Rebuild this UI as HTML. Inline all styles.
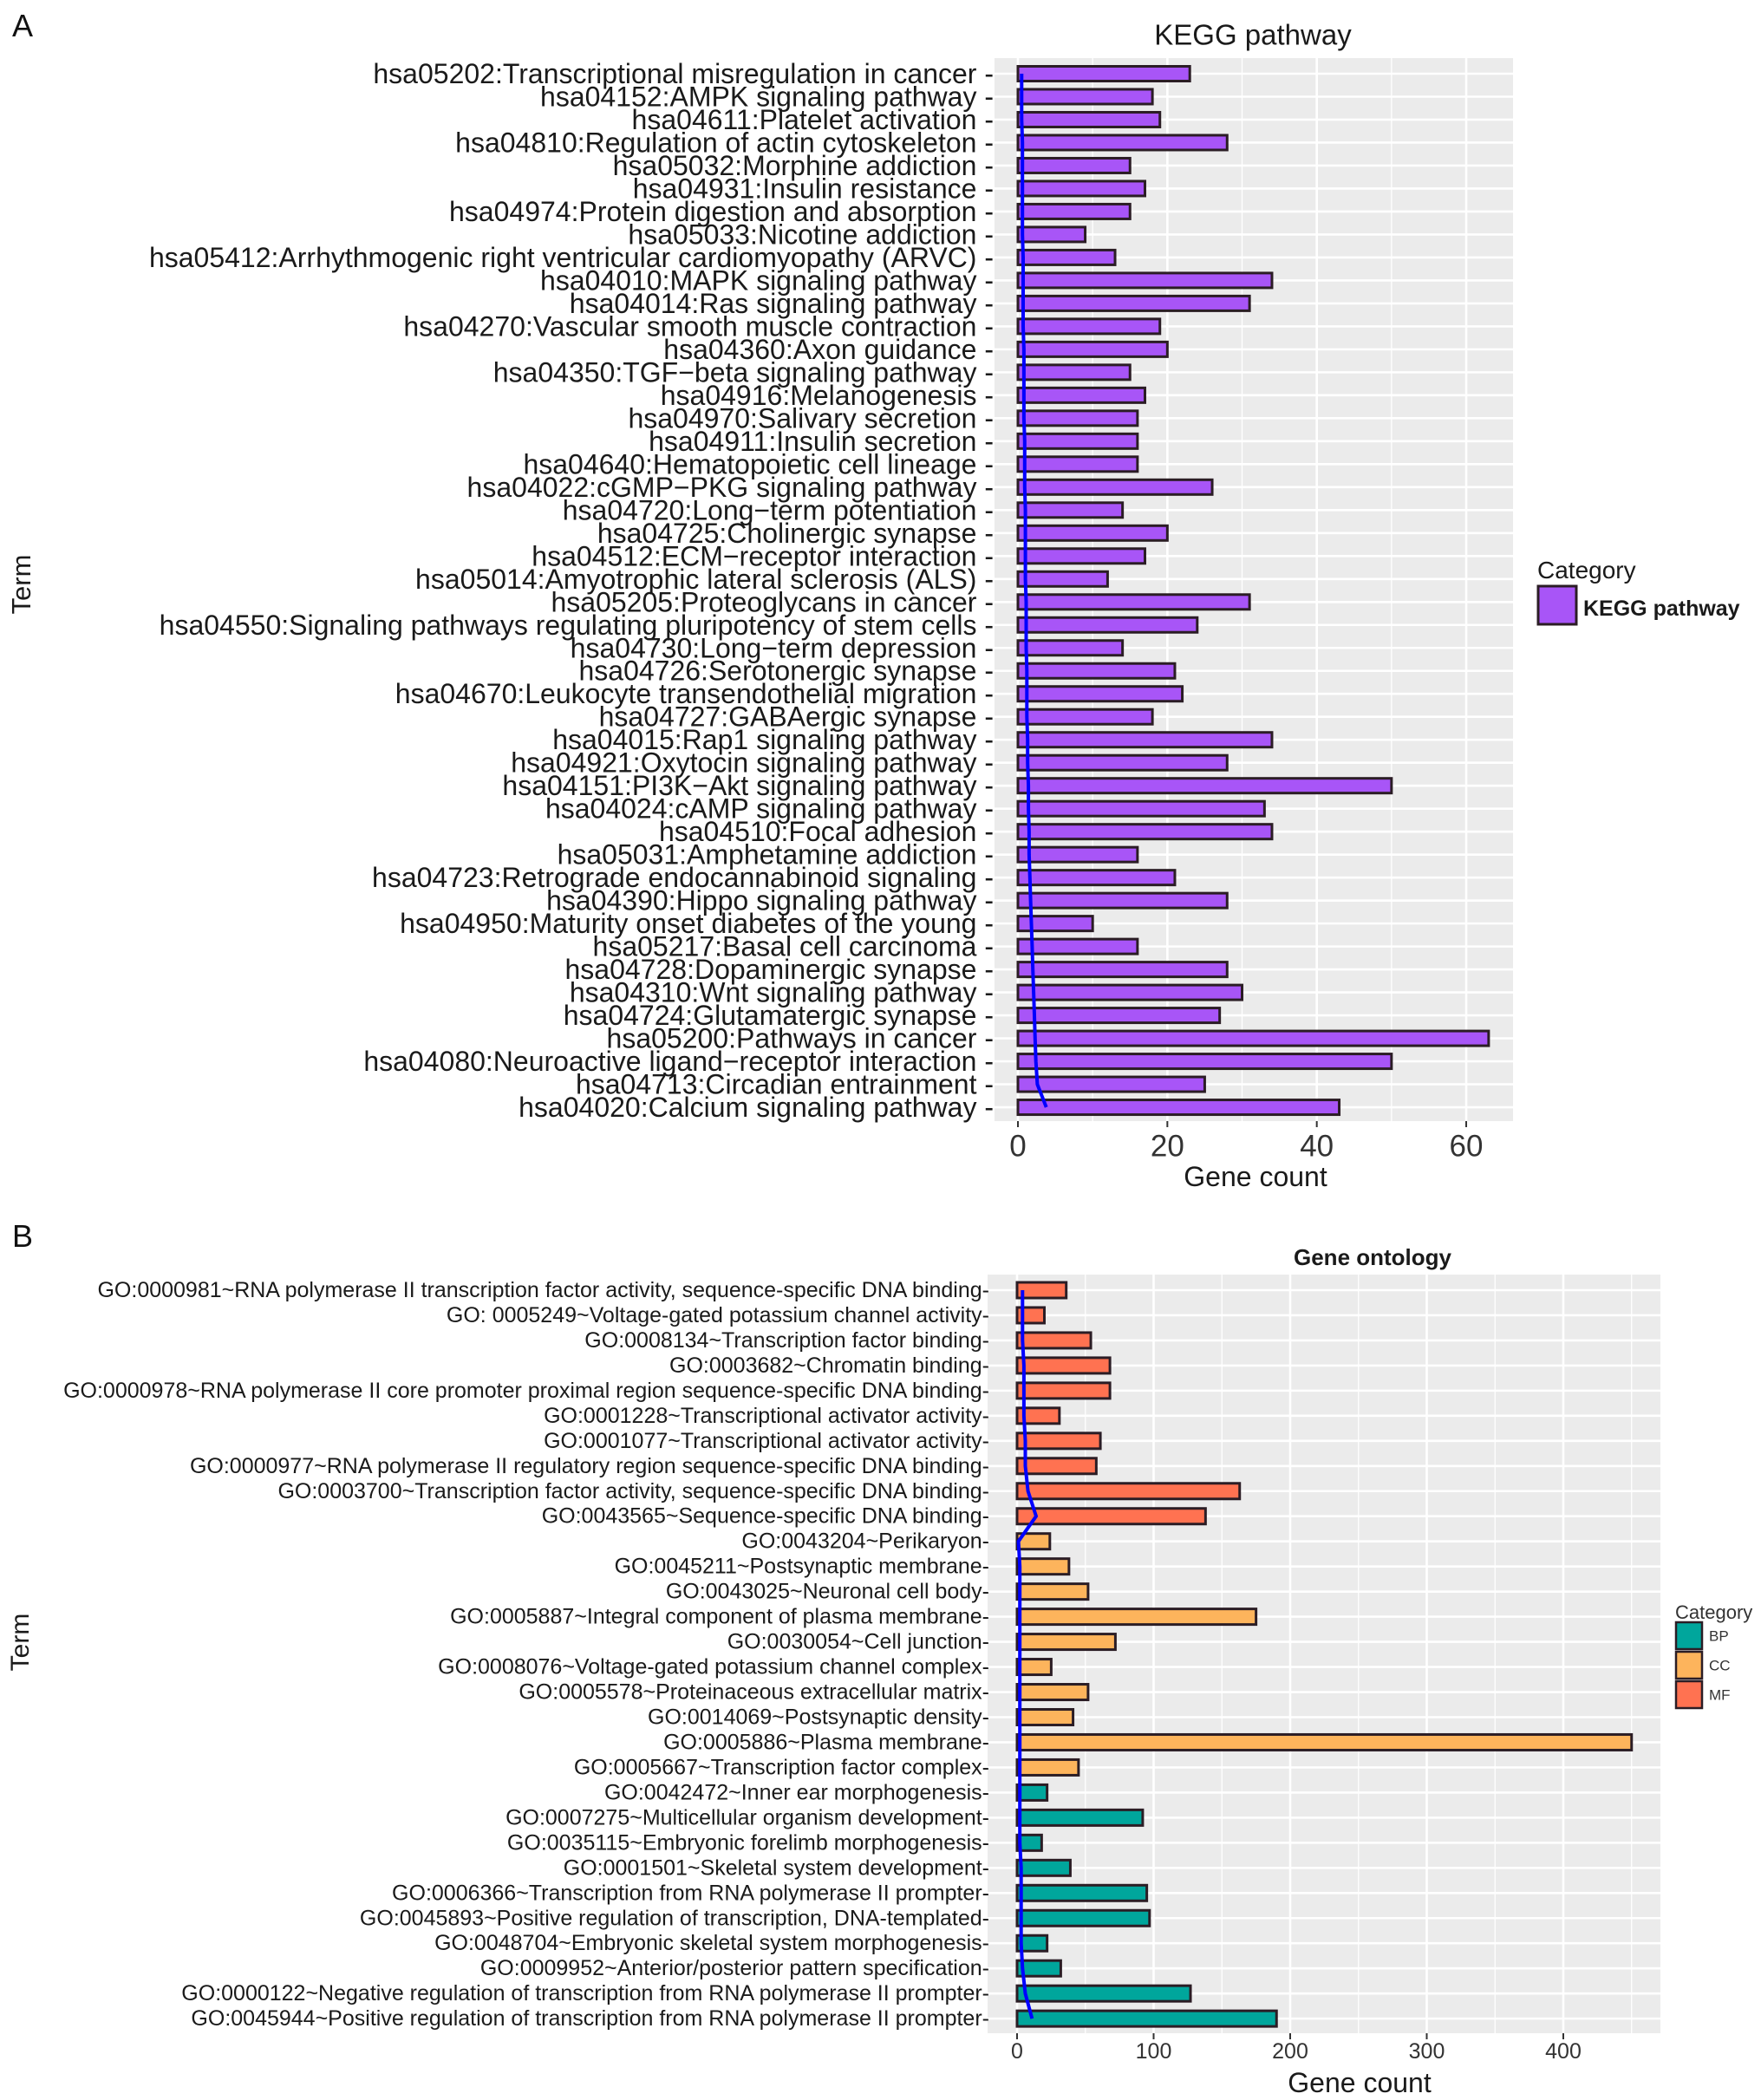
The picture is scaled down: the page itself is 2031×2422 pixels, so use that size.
<!DOCTYPE html>
<html><head><meta charset="utf-8"><style>
html,body{margin:0;padding:0;background:#fff;}
svg{display:block;font-family:"Liberation Sans",Arial,sans-serif;}
</style></head><body>
<svg id="fig" width="2031" height="2422" viewBox="0 0 2031 2422" xmlns="http://www.w3.org/2000/svg">
<text x="14" y="42" font-size="36" fill="#111">A</text>
<text x="14" y="1438" font-size="36" fill="#111">B</text>
<g id="kegg"></g>
<g id="go"></g>
</svg>
<script>
const keggTerms = ["hsa05202:Transcriptional misregulation in cancer","hsa04152:AMPK signaling pathway","hsa04611:Platelet activation","hsa04810:Regulation of actin cytoskeleton","hsa05032:Morphine addiction","hsa04931:Insulin resistance","hsa04974:Protein digestion and absorption","hsa05033:Nicotine addiction","hsa05412:Arrhythmogenic right ventricular cardiomyopathy (ARVC)","hsa04010:MAPK signaling pathway","hsa04014:Ras signaling pathway","hsa04270:Vascular smooth muscle contraction","hsa04360:Axon guidance","hsa04350:TGF\u2212beta signaling pathway","hsa04916:Melanogenesis","hsa04970:Salivary secretion","hsa04911:Insulin secretion","hsa04640:Hematopoietic cell lineage","hsa04022:cGMP\u2212PKG signaling pathway","hsa04720:Long\u2212term potentiation","hsa04725:Cholinergic synapse","hsa04512:ECM\u2212receptor interaction","hsa05014:Amyotrophic lateral sclerosis (ALS)","hsa05205:Proteoglycans in cancer","hsa04550:Signaling pathways regulating pluripotency of stem cells","hsa04730:Long\u2212term depression","hsa04726:Serotonergic synapse","hsa04670:Leukocyte transendothelial migration","hsa04727:GABAergic synapse","hsa04015:Rap1 signaling pathway","hsa04921:Oxytocin signaling pathway","hsa04151:PI3K\u2212Akt signaling pathway","hsa04024:cAMP signaling pathway","hsa04510:Focal adhesion","hsa05031:Amphetamine addiction","hsa04723:Retrograde endocannabinoid signaling","hsa04390:Hippo signaling pathway","hsa04950:Maturity onset diabetes of the young","hsa05217:Basal cell carcinoma","hsa04728:Dopaminergic synapse","hsa04310:Wnt signaling pathway","hsa04724:Glutamatergic synapse","hsa05200:Pathways in cancer","hsa04080:Neuroactive ligand\u2212receptor interaction","hsa04713:Circadian entrainment","hsa04020:Calcium signaling pathway"];
const keggCounts = [23,18,19,28,15,17,15,9,13,34,31,19,20,15,17,16,16,16,26,14,20,17,12,31,24,14,21,22,18,34,28,50,33,34,16,21,28,10,16,28,30,27,63,50,25,43];
const keggLine = [0.5,0.5,0.5,0.6,0.6,0.6,0.6,0.6,0.7,0.7,0.7,0.7,0.8,0.8,0.8,0.8,0.9,0.9,0.9,1.0,1.0,1.0,1.0,1.1,1.1,1.1,1.2,1.2,1.2,1.3,1.3,1.4,1.4,1.5,1.5,1.6,1.7,1.8,1.9,2.0,2.1,2.2,2.3,2.4,2.6,3.8];
const keggTicks = [0,20,40,60];

const goTerms = ["GO:0000981~RNA polymerase II transcription factor activity, sequence-specific DNA binding","GO: 0005249~Voltage-gated potassium channel activity","GO:0008134~Transcription factor binding","GO:0003682~Chromatin binding","GO:0000978~RNA polymerase II core promoter proximal region sequence-specific DNA binding","GO:0001228~Transcriptional activator activity","GO:0001077~Transcriptional activator activity","GO:0000977~RNA polymerase II regulatory region sequence-specific DNA binding","GO:0003700~Transcription factor activity, sequence-specific DNA binding","GO:0043565~Sequence-specific DNA binding","GO:0043204~Perikaryon","GO:0045211~Postsynaptic membrane","GO:0043025~Neuronal cell body","GO:0005887~Integral component of plasma membrane","GO:0030054~Cell junction","GO:0008076~Voltage-gated potassium channel complex","GO:0005578~Proteinaceous extracellular matrix","GO:0014069~Postsynaptic density","GO:0005886~Plasma membrane","GO:0005667~Transcription factor complex","GO:0042472~Inner ear morphogenesis","GO:0007275~Multicellular organism development","GO:0035115~Embryonic forelimb morphogenesis","GO:0001501~Skeletal system development","GO:0006366~Transcription from RNA polymerase II prompter","GO:0045893~Positive regulation of transcription, DNA-templated","GO:0048704~Embryonic skeletal system morphogenesis","GO:0009952~Anterior/posterior pattern specification","GO:0000122~Negative regulation of transcription from RNA polymerase II prompter","GO:0045944~Positive regulation of transcription from RNA polymerase II prompter"];
const goCounts = [36,20,54,68,68,31,61,58,163,138,24,38,52,175,72,25,52,41,450,45,22,92,18,39,95,97,22,32,127,190];
const goCats = ["MF","MF","MF","MF","MF","MF","MF","MF","MF","MF","CC","CC","CC","CC","CC","CC","CC","CC","CC","CC","BP","BP","BP","BP","BP","BP","BP","BP","BP","BP"];
const goLine = [4,4,4,5,5,5,6,6,8,14,1,2,2,2,2,2,2,2,2,2,2,2,2,3,3,3,3,4,6,11];
const goTicks = [0,100,200,300,400];
const catNames = ["BP","CC","MF"];
const catColors = {BP:"#00A69C",CC:"#FDB45C",MF:"#FF7251"};

const NS="http://www.w3.org/2000/svg";
function mk(parent,tag,attrs){const e=document.createElementNS(NS,tag);for(const k in attrs)e.setAttribute(k,attrs[k]);parent.appendChild(e);return e;}

function chart(g,o){
  const xs=v=>o.x0+v*o.ppu;
  const ys=i=>o.yFirst+i*o.step;
  const bg=mk(g,'rect',{x:o.left,y:o.top,width:o.right-o.left,height:o.bottom-o.top,fill:'#EBEBEB'});
  
  
  for(let v=o.minor0;xs(v)<o.right;v+=o.minorStep){ if(xs(v)>o.left) mk(g,'line',{x1:xs(v),x2:xs(v),y1:o.top,y2:o.bottom,stroke:'#fff','stroke-width':1.3}); }
  o.ticks.forEach(v=>mk(g,'line',{x1:xs(v),x2:xs(v),y1:o.top,y2:o.bottom,stroke:'#fff','stroke-width':2.6}));
  o.terms.forEach((t,i)=>mk(g,'line',{x1:o.left,x2:o.right,y1:ys(i),y2:ys(i),stroke:'#fff','stroke-width':2.6}));
  o.terms.forEach((t,i)=>{
    const y=ys(i);
    const r=mk(g,'rect',{x:xs(0),y:y-o.bh/2,width:xs(o.counts[i])-xs(0),height:o.bh,fill:o.color(i),stroke:'#2b1d25','stroke-width':3});
    
    
    const lb=mk(g,'text',{x:o.labelX,y:y,'font-size':o.lfs,'text-anchor':'end','dominant-baseline':'central',fill:'#1a1a1a','font-weight':o.lfw});
    lb.textContent=t+o.suffix;
    
    
  });
  let d='';
  o.line.forEach((v,i)=>{d+=(i?'L':'M')+xs(v).toFixed(1)+','+ys(i).toFixed(1);});
  const p=mk(g,'path',{d:d,fill:'none',stroke:'#0000FF','stroke-width':4,'stroke-linejoin':'round'});
  
  
  o.ticks.forEach(v=>{
    mk(g,'line',{x1:xs(v),x2:xs(v),y1:o.bottom,y2:o.bottom+7,stroke:'#333','stroke-width':2});
    const t=mk(g,'text',{x:xs(v),y:o.tickY,'font-size':o.tfs,'text-anchor':'middle','dominant-baseline':'central',fill:'#333'});
    t.textContent=v;
    
    
  });
}

const kg=document.getElementById('kegg');
chart(kg,{x0:1174,ppu:8.617,left:1147,right:1745,top:67,bottom:1293,yFirst:85,step:26.49,bh:17,
  minor0:-10,minorStep:10,ticks:keggTicks,terms:keggTerms,counts:keggCounts,line:keggLine,
  color:()=>'#A855F7',labelX:1146,lfs:32,lfw:'normal',suffix:' -',tickY:1322,tfs:35});
const kt=mk(kg,'text',{x:1445,y:40,'font-size':33,'text-anchor':'middle','dominant-baseline':'central',fill:'#1a1a1a'});kt.textContent='KEGG pathway';


const kx=mk(kg,'text',{x:1448,y:1357,'font-size':32,'text-anchor':'middle','dominant-baseline':'central',fill:'#1a1a1a'});kx.textContent='Gene count';


const ky=mk(kg,'text',{x:0,y:0,'font-size':31,'text-anchor':'middle',transform:'translate(35,674) rotate(-90)',fill:'#1a1a1a'});ky.textContent='Term';


const kl1=mk(kg,'text',{x:1773,y:667,'font-size':28,fill:'#1a1a1a'});kl1.textContent='Category';


const ks=mk(kg,'rect',{x:1774,y:676,width:44,height:44,fill:'#A855F7',stroke:'#2b1d25','stroke-width':3});


const kl2=mk(kg,'text',{x:1826,y:710,'font-size':25,fill:'#1a1a1a','font-weight':'bold'});kl2.textContent='KEGG pathway';



const gg=document.getElementById('go');
chart(gg,{x0:1173,ppu:1.575,left:1139,right:1915,top:1470,bottom:2345,yFirst:1488,step:28.97,bh:18,
  minor0:-50,minorStep:50,ticks:goTicks,terms:goTerms,counts:goCounts,line:goLine,
  color:i=>catColors[goCats[i]],labelX:1141,lfs:25,lfw:'normal',suffix:'-',tickY:2366,tfs:25});
const gt=mk(gg,'text',{x:1583,y:1450,'font-size':26,'font-weight':'bold','text-anchor':'middle','dominant-baseline':'central',fill:'#1a1a1a'});gt.textContent='Gene ontology';


const gx=mk(gg,'text',{x:1568,y:2402,'font-size':32,'text-anchor':'middle','dominant-baseline':'central',fill:'#1a1a1a'});gx.textContent='Gene count';


const gy=mk(gg,'text',{x:0,y:0,'font-size':30,'text-anchor':'middle',transform:'translate(33,1894) rotate(-90)',fill:'#1a1a1a'});gy.textContent='Term';


const gl=mk(gg,'text',{x:1932,y:1867,'font-size':22,fill:'#333'});gl.textContent='Category';


catNames.forEach((c,i)=>{
  const y=1871+i*34;
  const s=mk(gg,'rect',{x:1933,y:y,width:30,height:31,fill:catColors[c],stroke:'#2b1d25','stroke-width':2.5});
  
  
  const t=mk(gg,'text',{x:1971,y:y+16,'font-size':17,'dominant-baseline':'central',fill:'#333'});
  t.textContent=c;
  
  
});
</script>
</body></html>
